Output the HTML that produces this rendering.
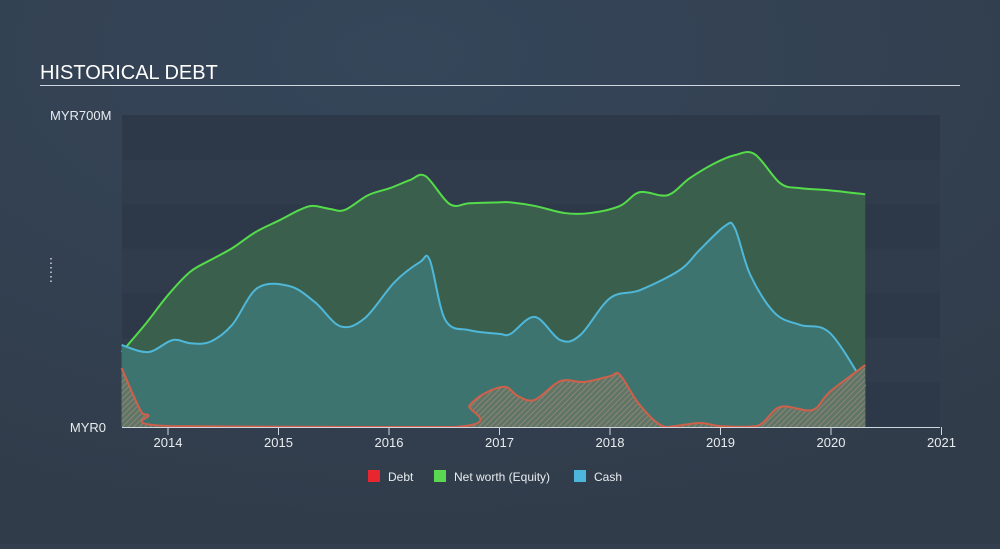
<!DOCTYPE html>
<html><head><meta charset="utf-8"><style>
body{margin:0;width:1000px;height:544px;overflow:hidden;background:#333f4f;font-family:"Liberation Sans",sans-serif}
</style></head><body>
<svg width="1000" height="544">
<defs>
<radialGradient id="bg" cx="0.4" cy="0.1" r="0.9"><stop offset="0" stop-color="#35465a"/><stop offset="1" stop-color="#313c4a"/></radialGradient>
<pattern id="hatch" width="4" height="4" patternUnits="userSpaceOnUse" patternTransform="rotate(45)"><rect width="4" height="4" fill="#5f7566"/><line x1="0" y1="0" x2="0" y2="4" stroke="#9a8a7c" stroke-width="1.5"/></pattern>
</defs>
<rect width="1000" height="544" fill="url(#bg)"/>
<text x="40" y="79" fill="#ffffff" font-size="20">HISTORICAL DEBT</text>
<line x1="40" y1="85.5" x2="960" y2="85.5" stroke="#d0d6dd" stroke-width="1"/>
<g id="bands"></g>
<g id="areas"></g>
<g id="axis"></g>
<text x="50" y="120" fill="#e8ecef" font-size="13">MYR700M</text>
<text x="106" y="432" fill="#e8ecef" font-size="13" text-anchor="end">MYR0</text>
<line x1="51" y1="258" x2="51" y2="284" stroke="#cfd6dc" stroke-width="1.5" stroke-dasharray="1.5 3"/>
<g>
<rect x="368" y="470" width="12" height="12" fill="#e8262f"/>
<text x="388" y="481" fill="#e8ecef" font-size="12">Debt</text>
<rect x="434" y="470" width="12" height="12" fill="#5ad851"/>
<text x="454" y="481" fill="#e8ecef" font-size="12">Net worth (Equity)</text>
<rect x="574" y="470" width="12" height="12" fill="#4db6dc"/>
<text x="594" y="481" fill="#e8ecef" font-size="12">Cash</text>
</g>
</svg>
<script>
const xTicks=[2014,2015,2016,2017,2018,2019,2020,2021];
const eqYears=[13.58,13.79,14.0,14.2,14.38,14.58,14.79,15.01,15.19,15.31,15.47,15.6,15.81,16.01,16.19,16.33,16.55,16.73,17.0,17.1,17.32,17.59,17.82,18.09,18.27,18.52,18.72,18.95,19.13,19.31,19.54,19.72,19.99,20.31];
const eqValues=[168,229,296,348,374,401,437,464,487,496,489,487,520,536,554,563,500,502,504,504,496,480,480,496,527,520,558,592,610,612,547,536,531,522];
const cashYears=[13.58,13.82,14.04,14.2,14.38,14.58,14.81,15.1,15.33,15.56,15.78,16.05,16.28,16.37,16.51,16.73,17.0,17.1,17.32,17.55,17.73,18.0,18.27,18.63,18.81,19.04,19.13,19.27,19.49,19.72,19.99,20.31];
const cashValues=[184,168,195,188,191,229,312,316,280,226,244,325,370,374,240,217,209,209,247,195,206,289,307,352,397,451,446,341,256,229,211,92];
const debtYears=[13.58,13.75,13.82,14.02,16.6,16.73,16.87,17.05,17.17,17.32,17.55,17.77,18.0,18.09,18.27,18.5,18.81,19.0,19.33,19.54,19.83,19.99,20.31];
const debtValues=[132,38,27,2,0,49,76,90,69,61,103,101,114,117,49,0,9,2,2,45,38,79,139];
const yMax=700;
const X0=122,X1=940,Y0=427,Y1=115;
const xs=y=>{const yr=y<100?y+2000:y;return 168+(yr-2014)*110.5;};
const ys=v=>Y0-(v/yMax)*(Y0-Y1);
const NS="http://www.w3.org/2000/svg";
function mk(tag,attrs,parent){const e=document.createElementNS(NS,tag);for(const k in attrs)e.setAttribute(k,attrs[k]);parent.appendChild(e);return e;}
const bands=document.getElementById('bands');
for(let i=0;i<7;i++){
 const b=mk('rect',{x:X0,y:ys((i+1)*100),width:X1-X0,height:ys(i*100)-ys((i+1)*100),fill:i%2?'#303c4c':'#2d3949'},bands);
 
 
}
function curve(xv,vv){
 const p=xv.map((x,i)=>[xs(x),ys(vv[i])]);
 let d=`M${p[0][0]},${p[0][1]}`;
 for(let i=0;i<p.length-1;i++){
  const a=p[Math.max(i-1,0)],b=p[i],c=p[i+1],e=p[Math.min(i+2,p.length-1)];
  let c1y=b[1]+(c[1]-a[1])/6,c2y=c[1]-(e[1]-b[1])/6;
  c1y=Math.min(c1y,Y0);c2y=Math.min(c2y,Y0);
  d+=` C${b[0]+(c[0]-a[0])/6},${c1y} ${c[0]-(e[0]-b[0])/6},${c2y} ${c[0]},${c[1]}`;
 }
 return {d,first:p[0],last:p[p.length-1]};
}
const areas=document.getElementById('areas');
function series(xv,vv,fill,stroke,name){
 const c=curve(xv,vv);
 const a=mk('path',{d:c.d+` L${c.last[0]},${Y0} L${c.first[0]},${Y0} Z`,fill:fill},areas);
 
 
 const l=mk('path',{d:c.d,fill:'none',stroke:stroke,'stroke-width':2},areas);
 
 
}
series(eqYears,eqValues,'#3a5f4d','#55dc4a','equity');
series(cashYears,cashValues,'#3e7470','#4fb8d9','cash');
series(debtYears,debtValues,'url(#hatch)','#d0604a','debt');
const ax=document.getElementById('axis');
const al=mk('line',{x1:X0,y1:Y0+0.5,x2:X1,y2:Y0+0.5,stroke:'#d0d6dd','stroke-width':1},ax);


xTicks.forEach(t=>{
 const tk=mk('line',{x1:xs(t),y1:Y0,x2:xs(t),y2:Y0+8,stroke:'#d0d6dd','stroke-width':1},ax);
 
 
 const tx=mk('text',{x:xs(t),y:Y0+20,fill:'#e8ecef','font-size':13,'text-anchor':'middle'},ax);
 tx.textContent=t;
 
 
});
</script>
</body></html>
